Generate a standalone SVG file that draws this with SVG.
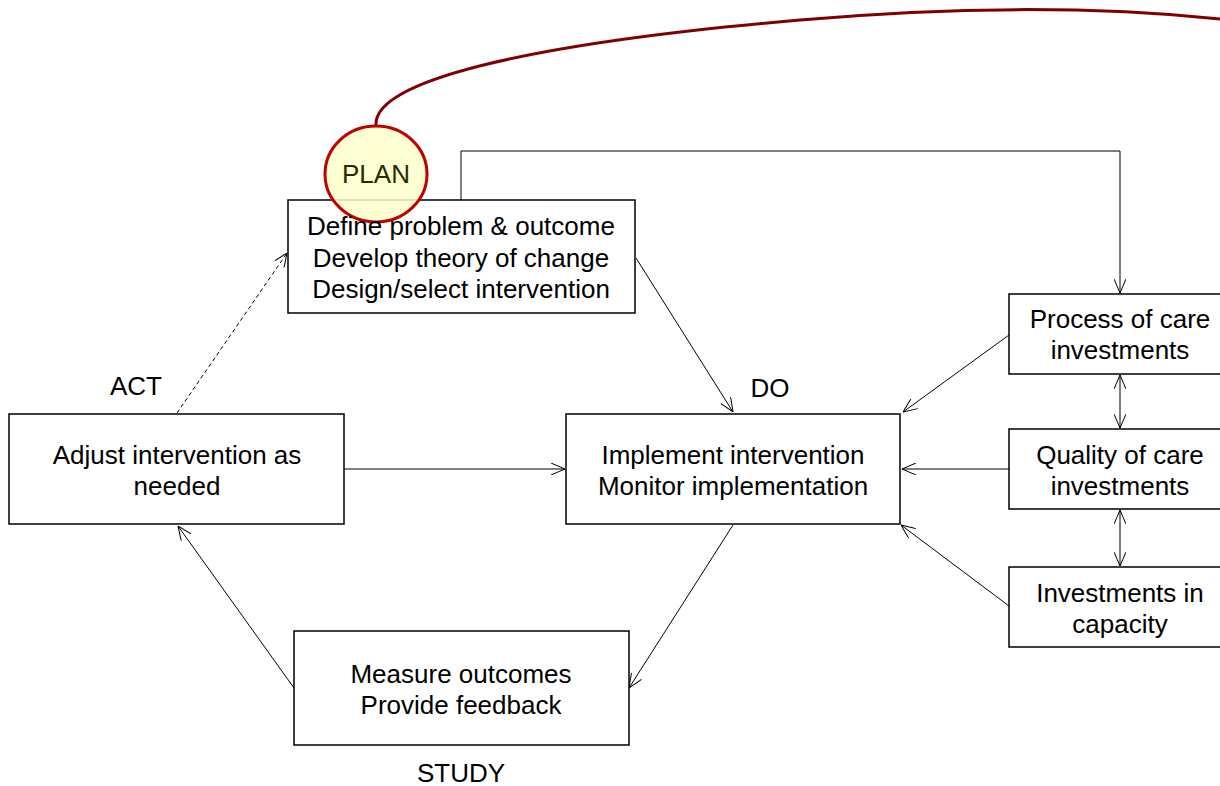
<svg xmlns="http://www.w3.org/2000/svg" width="1220" height="786" viewBox="0 0 1220 786">
  <style>
    .box { fill: #ffffff; stroke: #000000; stroke-width: 1.5; }
    .t { font-family: "Liberation Sans", Arial, sans-serif; font-size: 26px; fill: #000000; text-anchor: middle; }
    .lbl { font-family: "Liberation Sans", Arial, sans-serif; font-size: 26px; fill: #000000; text-anchor: middle; }
    .con { fill: none; stroke: #000000; stroke-width: 1; }
    .dash { stroke-dasharray: 4 3; }
  </style>
  <defs>
    <marker id="arr" viewBox="0 0 14 12" refX="14" refY="6" markerWidth="14" markerHeight="12" markerUnits="userSpaceOnUse" orient="auto-start-reverse">
      <path d="M0,0 L14,6 L0,12" fill="none" stroke="#000000" stroke-width="1"/>
    </marker>
  </defs>

  <!-- connectors -->
  <g id="connectors">
    <polyline class="con" points="461,200 461,151 1120,151 1120,293" marker-end="url(#arr)"/>
    <line class="con" x1="636" y1="258" x2="733" y2="412" marker-end="url(#arr)"/>
    <line class="con" x1="1009" y1="335" x2="903" y2="412" marker-end="url(#arr)"/>
    <line class="con" x1="1009" y1="469" x2="902" y2="469" marker-end="url(#arr)"/>
    <line class="con" x1="1009" y1="606" x2="901" y2="525" marker-end="url(#arr)"/>
    <line class="con" x1="1120" y1="375" x2="1120" y2="428" marker-start="url(#arr)" marker-end="url(#arr)"/>
    <line class="con" x1="1120" y1="510" x2="1120" y2="566" marker-start="url(#arr)" marker-end="url(#arr)"/>
    <line class="con" x1="344" y1="469" x2="565" y2="469" marker-end="url(#arr)"/>
    <line class="con" x1="733" y1="525" x2="629" y2="688" marker-end="url(#arr)"/>
    <line class="con" x1="294" y1="688" x2="178" y2="526" marker-end="url(#arr)"/>
    <line class="con dash" x1="177" y1="413" x2="287" y2="253" marker-end="url(#arr)"/>
    <path d="M376,126 C372,82 520,44 800,20 C960,6 1100,6 1230,20" fill="none" stroke="#800000" stroke-width="3"/>
  </g>

  <!-- plan step -->
  <g id="plan">
    <rect class="box" x="288" y="200" width="347" height="113"/>
    <ellipse cx="376" cy="174" rx="51" ry="48" fill="#ffffcc" fill-opacity="0.85" stroke="#c00000" stroke-width="3"/>
    <text x="376" y="183" style="font-family:'Liberation Sans', Arial, sans-serif; font-size:26px; text-anchor:middle; fill:#2a2a00">PLAN</text>
    <text class="t" x="461" y="235">Define problem &amp; outcome</text>
    <text class="t" x="461" y="267">Develop theory of change</text>
    <text class="t" x="461" y="298">Design/select intervention</text>
  </g>

  <!-- do step -->
  <g id="do">
    <rect class="box" x="566" y="414" width="334" height="110"/>
    <text class="t" x="733" y="464">Implement intervention</text>
    <text class="t" x="733" y="495">Monitor implementation</text>
    <text class="lbl" x="770" y="397">DO</text>
  </g>

  <!-- act step -->
  <g id="act">
    <rect class="box" x="9" y="414" width="335" height="110"/>
    <text class="t" x="177" y="464">Adjust intervention as</text>
    <text class="t" x="177" y="495">needed</text>
    <text class="lbl" x="136" y="395">ACT</text>
  </g>

  <!-- study step -->
  <g id="study">
    <rect class="box" x="294" y="631" width="335" height="114"/>
    <text class="t" x="461" y="683">Measure outcomes</text>
    <text class="t" x="461" y="714">Provide feedback</text>
    <text class="lbl" x="461" y="782">STUDY</text>
  </g>

  <!-- investment inputs -->
  <g id="process-of-care">
    <rect class="box" x="1009" y="294" width="222" height="80"/>
    <text class="t" x="1120" y="328">Process of care</text>
    <text class="t" x="1120" y="359">investments</text>
  </g>
  <g id="quality-of-care">
    <rect class="box" x="1009" y="429" width="222" height="80"/>
    <text class="t" x="1120" y="464">Quality of care</text>
    <text class="t" x="1120" y="495">investments</text>
  </g>
  <g id="capacity">
    <rect class="box" x="1009" y="567" width="222" height="80"/>
    <text class="t" x="1120" y="602">Investments in</text>
    <text class="t" x="1120" y="633">capacity</text>
  </g>
</svg>
